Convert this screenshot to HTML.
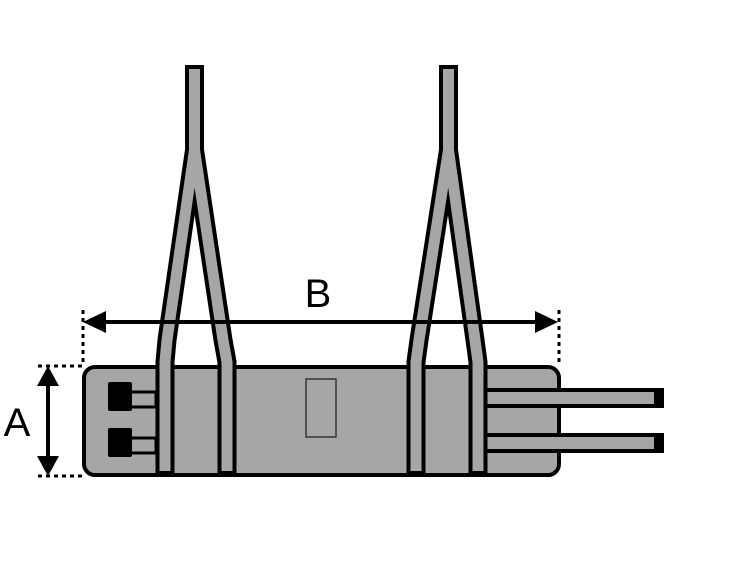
<!DOCTYPE html>
<html><head><style>html,body{margin:0;padding:0;background:#fff}svg{display:block}</style></head><body>
<svg width="735" height="575" viewBox="0 0 735 575" xmlns="http://www.w3.org/2000/svg">
<g fill="none" stroke="#000" stroke-width="3" stroke-dasharray="4,4">
<line x1="83" y1="310" x2="83" y2="366"/><line x1="559" y1="310" x2="559" y2="366"/>
<line x1="38" y1="366" x2="83" y2="366"/><line x1="38" y1="476" x2="83" y2="476"/>
</g>
<rect x="84" y="367" width="475" height="108" rx="11" fill="#a6a6a6" stroke="#000" stroke-width="4"/>
<!-- right bars -->
<rect x="480" y="390" width="182" height="16" fill="#a6a6a6" stroke="#000" stroke-width="4"/>
<rect x="480" y="435" width="182" height="16" fill="#a6a6a6" stroke="#000" stroke-width="4"/>
<rect x="654" y="388" width="10" height="20" fill="#000"/>
<rect x="654" y="433" width="10" height="20" fill="#000"/>
<rect x="306" y="379" width="30" height="58" fill="#a6a6a6" stroke="#333" stroke-width="1.5"/>
<!-- buckles -->
<rect x="128" y="392" width="28" height="15" fill="#a6a6a6" stroke="#000" stroke-width="3"/>
<rect x="128" y="438" width="28" height="15" fill="#a6a6a6" stroke="#000" stroke-width="3"/>
<rect x="108" y="382" width="24" height="29" rx="2" fill="#000"/>
<rect x="108" y="428" width="24" height="29" rx="2" fill="#000"/>
<!-- straps -->
<g fill="none" stroke-linejoin="miter">
<g stroke="#000" stroke-width="19">
<path d="M194.5 65 V150 L167 340 L165 362 V475"/>
<path d="M194.5 150 L223 340 L227 362 V475"/>
<path d="M448.5 65 V150 L419 340 L416 362 V475"/>
<path d="M448.5 150 L475 340 L478 362 V475"/>
</g>
<g stroke="#a6a6a6" stroke-width="11">
<path d="M194.5 69 V150 L167 340 L165 362 V471"/>
<path d="M194.5 150 L223 340 L227 362 V471"/>
<path d="M448.5 69 V150 L419 340 L416 362 V471"/>
<path d="M448.5 150 L475 340 L478 362 V471"/>
</g>
</g>
<!-- dimension B -->
<line x1="100" y1="322" x2="540" y2="322" stroke="#000" stroke-width="4"/>
<polygon points="83,322 106,311 106,333" fill="#000"/>
<polygon points="558,322 535,311 535,333" fill="#000"/>
<text x="318" y="307" font-family="Liberation Sans, sans-serif" font-size="40" text-anchor="middle">B</text>
<!-- dimension A -->
<line x1="48" y1="385" x2="48" y2="458" stroke="#000" stroke-width="4"/>
<polygon points="48,366 37,386 59,386" fill="#000"/>
<polygon points="48,476 37,456 59,456" fill="#000"/>
<text x="17" y="436" font-family="Liberation Sans, sans-serif" font-size="40" text-anchor="middle">A</text>
</svg>
</body></html>
